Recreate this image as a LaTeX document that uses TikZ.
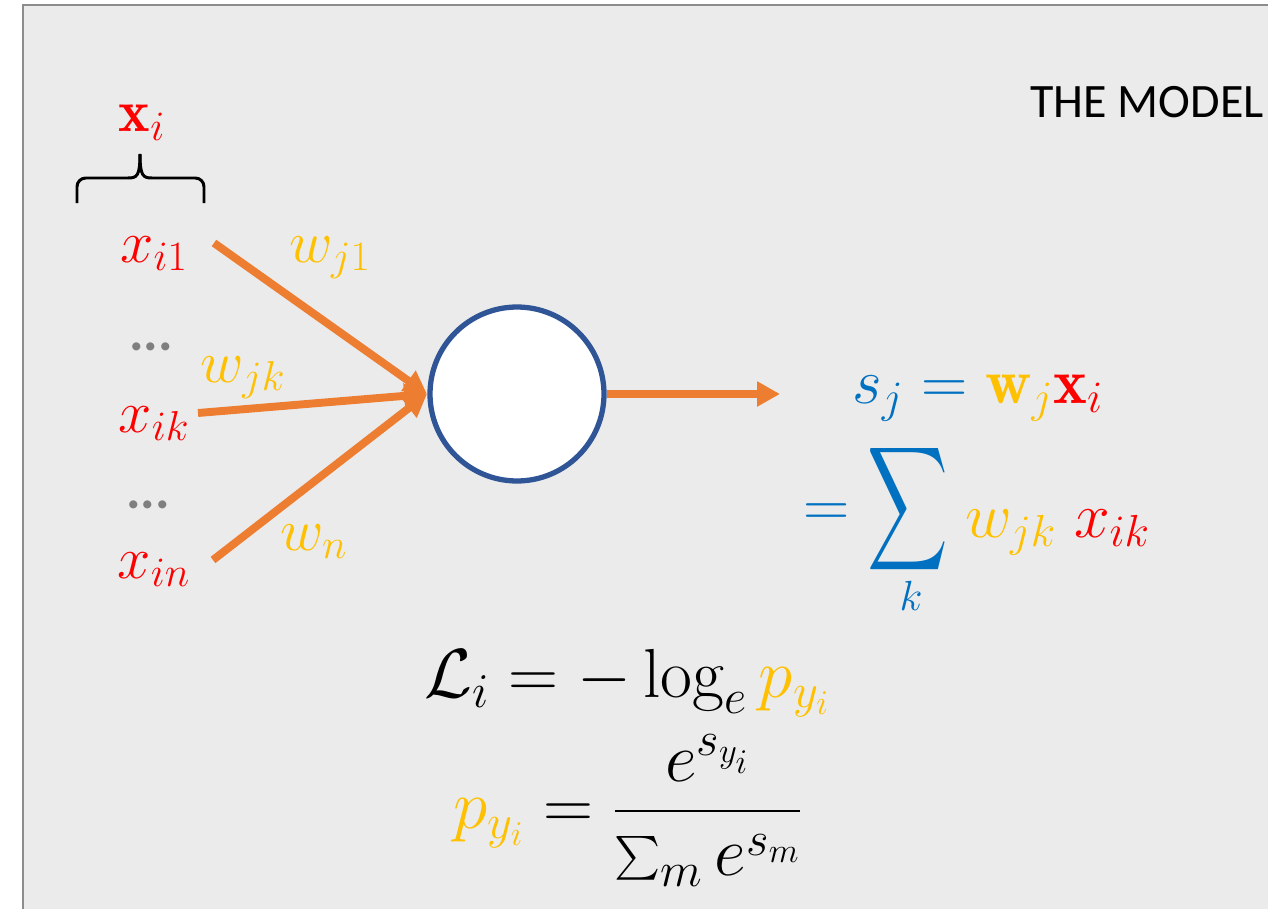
\RequirePackage{fix-cm}
\documentclass[tikz,border=0pt]{standalone}
\usepackage{amsmath}
\usepackage{graphicx}
\usepackage{fontspec}
\newfontfamily\calib{Carlito}
\usetikzlibrary{arrows.meta}
\definecolor{bg}{HTML}{EBEBEB}
\definecolor{bordergray}{HTML}{8C8C8C}
\definecolor{ylw}{HTML}{FFC000}
\definecolor{blu}{HTML}{0070C0}
\definecolor{org}{HTML}{ED7D31}
\definecolor{cblue}{HTML}{2F5597}
\definecolor{dotgray}{HTML}{7F7F7F}
\begin{document}
\begin{tikzpicture}[x=0.02cm,y=-0.02cm,
  m/.style={font=\fontsize{34}{40}\selectfont, inner sep=0pt},
  mbig/.style={font=\fontsize{36.5}{42}\selectfont, inner sep=0pt},
  meq/.style={font=\fontsize{39.5}{45}\selectfont, inner sep=0pt},
  dotstyle/.style={font=\calib\bfseries\fontsize{31}{34}\selectfont, text=dotgray, inner sep=0pt, anchor=base},
  arr/.style={draw=org, line width=4.5pt, -{Triangle[length=13pt,width=13.5pt]}}]
\useasboundingbox (0,0) rectangle (1268,909);
\fill[white] (0,0) rectangle (1268,909);
\clip (0,0) rectangle (1268,909);
\draw[line width=1.4pt, draw=bordergray, fill=bg] (23,5) rectangle (1300,950);

% title
\node[font=\calib\fontsize{27.3}{30}\selectfont, anchor=base west, inner sep=0pt] (title) at (1030,118) {THE MODEL};

% input vector and brace
\node[m, text=red, anchor=base] (xb) at (142,132) {$\mathbf{x}_i$};
\draw[line width=1.7pt, rounded corners=5pt] (77,203) -- (77,178) -- (128,178);
\draw[line width=1.7pt] (128,178) .. controls (137,178) and (140,176) .. (140,154);
\draw[line width=1.7pt, rounded corners=5pt] (204,203) -- (204,178) -- (152,178);
\draw[line width=1.7pt] (152,178) .. controls (143,178) and (140,176) .. (140,154);

% inputs
\node[m, text=red, anchor=base] (xi1) at (154,262) {$x_{i1}$};
\node[dotstyle] (d1) at (151,350) {...};
\node[m, text=red, anchor=base] (xik) at (154,432) {$x_{ik}$};
\node[dotstyle] (d2) at (148,508) {...};
\node[m, text=red, anchor=base] (xin) at (154,578) {$x_{in}$};

% weights
\node[m, text=ylw, anchor=base] (w1) at (330,262) {$w_{j1}$};
\node[m, text=ylw, anchor=base] (wk) at (243,382) {$w_{jk}$};
\node[m, text=ylw, anchor=base] (wn) at (314,550) {$w_n$};

% neuron
\node[circle, draw=cblue, line width=3pt, fill=white, minimum size=3.48cm, inner sep=0pt] (neuron) at (517,394) {};

\coordinate (a1) at (214,243);
\coordinate (ak) at (198,413);
\coordinate (an) at (213,560);
\coordinate (cin) at (427,394);
\coordinate (out) at (780,394);
\draw[arr] (a1) -- (cin);
\draw[arr] (ak) -- (cin);
\draw[arr] (an) -- (cin);
\draw[arr] (neuron.east) -- (out);

% score
\node[mbig, text=blu, anchor=base west] (sj) at (852,403) {$s_j = {\color{ylw}\mathbf{w}_j}{\color{red}\mathbf{x}_i}$};
\node[mbig, text=blu] (eq2) at (827,515) {$=$};
\node[inner sep=0pt, text=blu, font=\fontsize{34}{40}\selectfont] (sum) at (908,516) {\raisebox{0pt}[0.78\height][0.78\depth]{\scalebox{1.28}[1.98]{$\displaystyle\sum$}}};
\node[font=\fontsize{24}{28}\selectfont, inner sep=0pt, text=blu, anchor=base] (k) at (911,610) {$k$};
\node[mbig, anchor=base west] (wx) at (965,537) {${\color{ylw}w_{jk}}\;{\color{red}x_{ik}}$};

% loss
\node[meq, anchor=base] (loss) at (627,697) {$\mathcal{L}_i = -\log_e {\color{ylw}p_{y_i}}$};
\node[meq, anchor=base] (prob) at (628,828) {${\color{ylw}p_{y_i}} = \dfrac{e^{s_{y_i}}}{\sum_m e^{s_m}}$};
\end{tikzpicture}
\end{document}
